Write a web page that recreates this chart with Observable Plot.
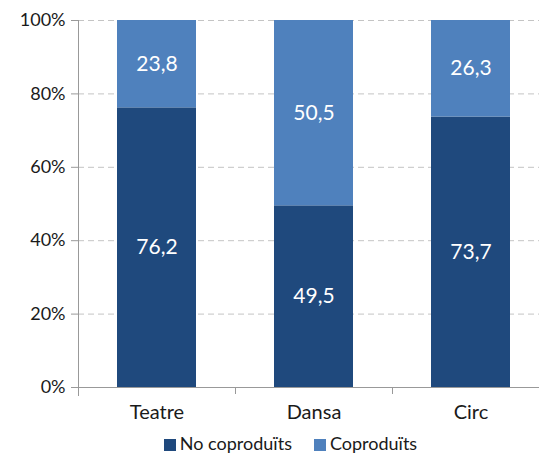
<!DOCTYPE html>
<html>
<head>
<meta charset="utf-8">
<script src="https://cdn.jsdelivr.net/npm/d3@7"></script>
<script src="https://cdn.jsdelivr.net/npm/@observablehq/plot@0.6"></script>
<style>
  html, body { margin: 0; padding: 0; background: #fff; }
  #chart { width: 539px; font-family: Lato, "Open Sans", sans-serif; }
  .legend { display: flex; justify-content: center; gap: 22px; font-size: 18px; color: #1a1a1a; height: 25px; align-items: center; margin-left: 42px; }
  .legend span.sw { display: inline-block; width: 12px; height: 12px; margin-right: 4px; vertical-align: -1px; }
</style>
</head>
<body>
<div id="chart"></div>
<script>
const categories = ["Teatre", "Dansa", "Circ"];
const seriesNames = ["No coproduïts", "Coproduïts"];
const noCoproduits = [76.2, 49.5, 73.7];
const coproduits = [23.8, 50.5, 26.3];
const colors = ["#1F497D", "#4F81BD"];
const yTicks = [0, 20, 40, 60, 80, 100];

const data = [];
categories.forEach((c, i) => {
  data.push({cat: c, series: seriesNames[0], value: noCoproduits[i]});
  data.push({cat: c, series: seriesNames[1], value: coproduits[i]});
});
const fmt = v => v.toFixed(1).replace(".", ",");

const plot = Plot.plot({
  width: 539,
  height: 430,
  marginLeft: 78,
  marginRight: 0,
  marginTop: 20,
  marginBottom: 43,
  style: {fontFamily: "Lato, 'Open Sans', sans-serif", fontSize: "15px", color: "#1a1a1a", overflow: "hidden"},
  x: {domain: categories, range: [78, 549], paddingInner: 0.5, paddingOuter: 0.25, label: null},
  y: {domain: [0, 100], label: null},
  color: {domain: seriesNames, range: colors},
  marks: [
    Plot.gridY(yTicks, {stroke: "#c4c4c4", strokeOpacity: 1, strokeDasharray: "6,4"}),
    Plot.barY(data, {x: "cat", y: "value", fill: "series", order: seriesNames, inset: 0}),
    Plot.text(data, Plot.stackY({x: "cat", y: "value", order: seriesNames, text: d => fmt(d.value), fill: "white", fontSize: 21, z: "series"})),
    Plot.axisY(yTicks, {tickFormat: d => d + "%", tickSize: 7, tickPadding: 6, stroke: "#999", fontSize: 18, fill: "#1a1a1a"}),
    Plot.frame({anchor: "bottom", stroke: "#999"}),
    Plot.frame({anchor: "left", stroke: "#999", insetBottom: -8}),
    Plot.ruleX(categories.slice(1), {x: d => d, y1: 0, y2: 0, dx: -78.5, stroke: "#999", insetBottom: -7}),
    Plot.axisX({tickSize: 0, tickPadding: 17, fontSize: 20, fill: "#1a1a1a"})
  ]
});

const chart = document.getElementById("chart");
chart.appendChild(plot);

const legend = document.createElement("div");
legend.className = "legend";
seriesNames.forEach((s, i) => {
  const item = document.createElement("div");
  item.innerHTML = `<span class="sw" style="background:${colors[i]}"></span>${s}`;
  legend.appendChild(item);
});
chart.appendChild(legend);
</script>
</body>
</html>
